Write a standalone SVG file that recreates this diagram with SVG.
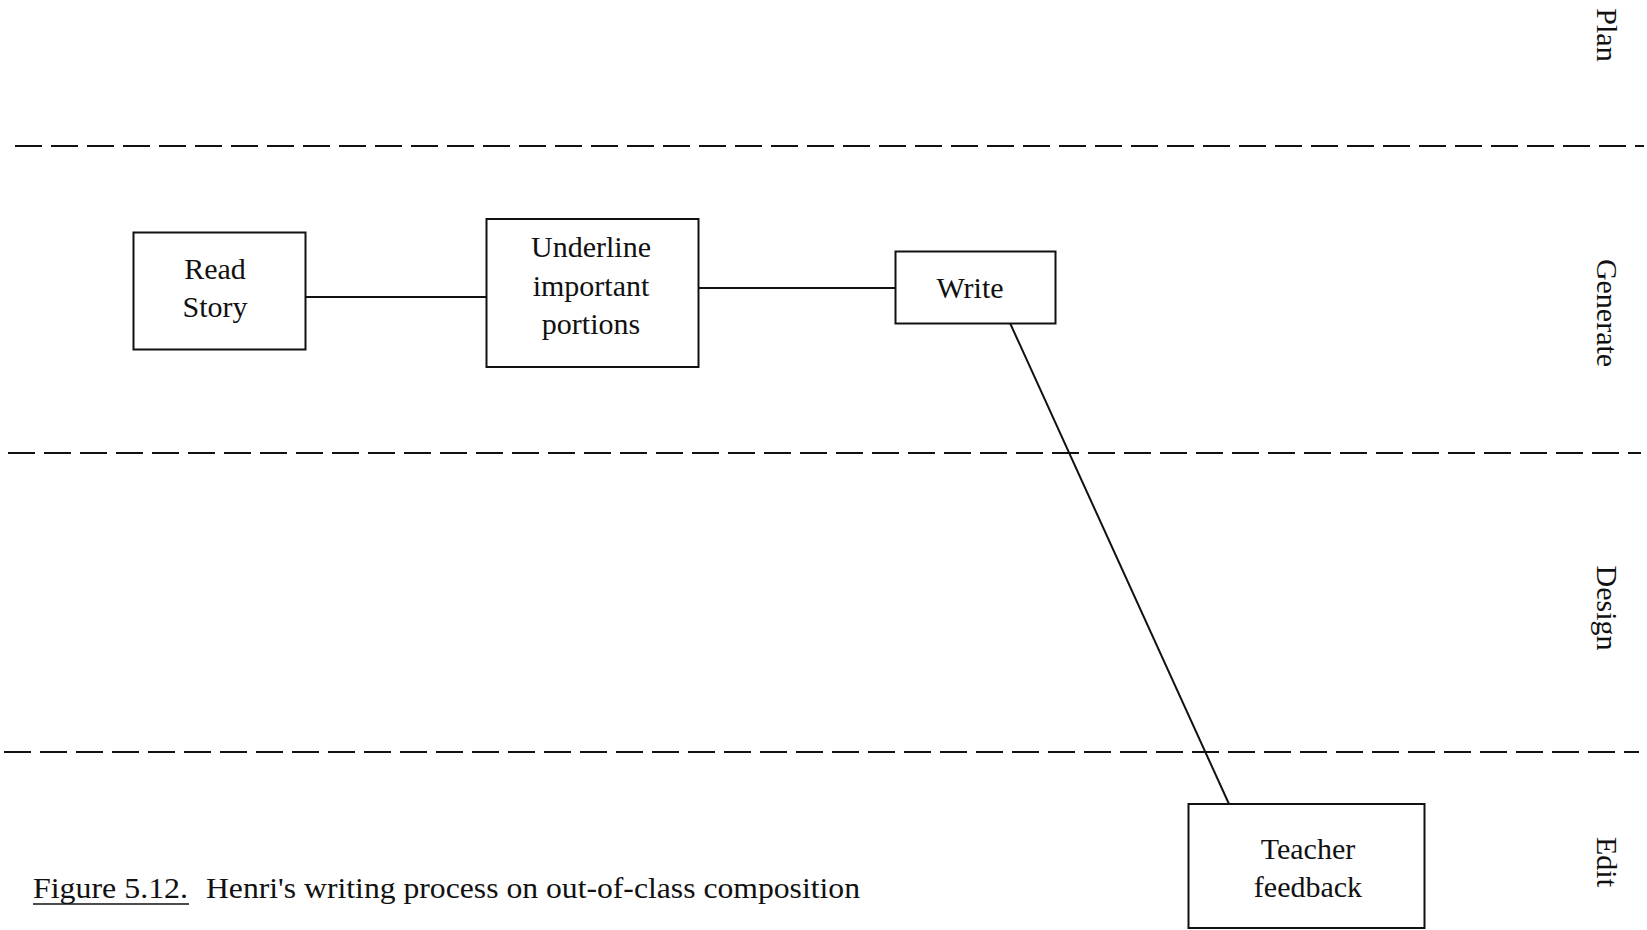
<svg xmlns="http://www.w3.org/2000/svg" width="1647" height="930" viewBox="0 0 1647 930">
  <style>
    text { font-family: "Liberation Serif", "Times New Roman", serif; fill: #111; }
    .node rect { fill: #fff; stroke: #111; stroke-width: 2; }
    .node text { font-size: 30px; text-anchor: middle; }
    .lane { stroke: #111; stroke-width: 2; stroke-dasharray: 27 9; fill: none; }
    .conn { stroke: #111; stroke-width: 2; fill: none; }
    .stage { font-size: 30px; text-anchor: middle; }
    .caption { font-size: 30px; }
  </style>

  <rect x="0" y="0" width="1647" height="930" fill="#fff"/>

  <!-- swimlane separators -->
  <g id="lanes">
    <line class="lane" x1="15" y1="146" x2="1644" y2="146"/>
    <line class="lane" x1="8" y1="453" x2="1641" y2="453"/>
    <line class="lane" x1="4" y1="752" x2="1639" y2="752"/>
  </g>

  <!-- stage labels, rotated -->
  <g id="stages">
    <text class="stage" transform="translate(1597,35) rotate(90)">Plan</text>
    <text class="stage" transform="translate(1597,313) rotate(90)">Generate</text>
    <text class="stage" transform="translate(1597,608) rotate(90)">Design</text>
    <text class="stage" transform="translate(1597,862) rotate(90)">Edit</text>
  </g>

  <!-- connectors -->
  <g id="connectors">
    <line class="conn" x1="306" y1="297" x2="486" y2="297"/>
    <line class="conn" x1="698" y1="288" x2="895" y2="288"/>
    <line class="conn" x1="1010" y1="323" x2="1229" y2="804"/>
  </g>

  <g id="read-story" class="node">
    <rect x="133.5" y="232.5" width="172" height="117"/>
    <text x="215" y="279">Read</text>
    <text x="215" y="317">Story</text>
  </g>

  <g id="underline" class="node">
    <rect x="486.5" y="219" width="212" height="148"/>
    <text x="591" y="257">Underline</text>
    <text x="591" y="296">important</text>
    <text x="591" y="334">portions</text>
  </g>

  <g id="write" class="node">
    <rect x="895.5" y="251.5" width="160" height="72"/>
    <text x="970" y="298">Write</text>
  </g>

  <g id="teacher-feedback" class="node">
    <rect x="1188.5" y="804" width="236" height="124"/>
    <text x="1308" y="859">Teacher</text>
    <text x="1308" y="897">feedback</text>
  </g>

  <!-- caption -->
  <g id="caption">
    <text class="caption" x="33" y="898" textLength="155" lengthAdjust="spacingAndGlyphs">Figure 5.12.</text>
    <text class="caption" x="206" y="898" textLength="654" lengthAdjust="spacingAndGlyphs">Henri's writing process on out-of-class composition</text>
    <line x1="33" y1="904" x2="189" y2="904" stroke="#111" stroke-width="1.5"/>
  </g>
</svg>
